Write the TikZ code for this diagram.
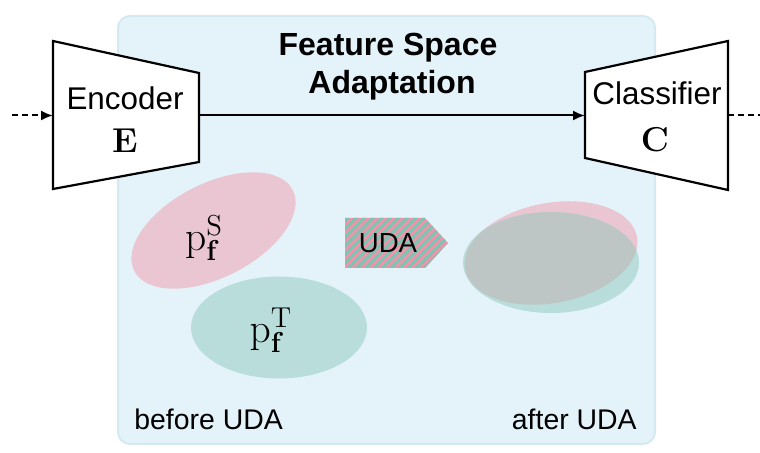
\documentclass[tikz,border=0pt]{standalone}
\usepackage[no-math]{fontspec}
\setmainfont{Liberation Sans}
\usetikzlibrary{arrows.meta}

\definecolor{panelfill}{HTML}{E4F3F9}
\definecolor{panelline}{HTML}{D4E9F2}
\definecolor{srcpink}{HTML}{EAC6D2}
\definecolor{tgtteal}{HTML}{B9DDDA}
\definecolor{mixgray}{HTML}{BEC6C5}
\definecolor{stripepink}{HTML}{EE95AA}
\definecolor{stripeteal}{HTML}{7FC3B2}

\tikzset{
  block/.style={draw=black, line width=1.1pt, fill=white, line join=miter},
  flow/.style={line width=1pt, -{Latex[length=6pt,width=5pt]}},
  dashflow/.style={flow, dash pattern=on 3pt off 2pt},
  dashtail/.style={line width=1pt, dash pattern=on 3pt off 2pt},
  label/.style={font=\fontsize{15.7pt}{18pt}\selectfont, inner sep=0pt},
  caption/.style={font=\fontsize{14.2pt}{17pt}\selectfont, inner sep=0pt},
  title/.style={font=\fontsize{16pt}{19pt}\selectfont\bfseries, inner sep=0pt},
  sym/.style={font=\fontsize{17.5pt}{20pt}\selectfont, inner sep=0pt},
  dist/.style={font=\fontsize{22pt}{25pt}\selectfont, inner sep=0pt},
  udatext/.style={font=\fontsize{13.8pt}{16pt}\selectfont, inner sep=0pt},
}

\begin{document}
\begin{tikzpicture}[x=0.5pt,y=-0.5pt]
\useasboundingbox (0,0) rectangle (760,453);

% adaptation panel
\draw[panelline, fill=panelfill, line width=1pt, rounded corners=6pt]
  (118,16) rectangle (655,444);

% title
\node[title, anchor=base] (title1) at (388,56) {Feature Space};
\node[title, anchor=base] (title2) at (392,94) {Adaptation};

% encoder and classifier blocks
\draw[block] (53,41) -- (199,73) -- (199,162) -- (53,189) -- cycle;
\draw[block] (585,72) -- (728,41) -- (728,190) -- (585,158) -- cycle;
\coordinate (encin)  at (53,115.5);
\coordinate (encout) at (199,115.5);
\coordinate (clsin)  at (585,115.5);
\coordinate (clsout) at (728,115.5);
\coordinate (src)    at (12,115.5);
\coordinate (sink)   at (760,115.5);

\node[label, anchor=base] (enc) at (125,110) {Encoder};
\node[sym, anchor=base] (encsym) at (125,153) {$\mathbf{E}$};
\node[label, anchor=base] (cls) at (657,105) {Classifier};
\node[sym, anchor=base] (clssym) at (655,152) {$\mathbf{C}$};

% connectors
\draw[dashflow] (src) -- (encin);
\draw[flow] (encout) -- (clsin);
\draw[dashtail] (clsout) -- (sink);

% feature distributions before adaptation
\fill[srcpink, rotate around={27:(213.5,230.5)}]
  (213.5,230.5) ellipse [x radius=89, y radius=47];
\fill[tgtteal] (279,327.5) ellipse [x radius=88, y radius=51];
\node[dist] (ps) at (204,238) {$\mathrm{p}_{\mathbf{f}}^{\mathrm{S}}$};
\node[dist] (pt) at (271,330) {$\mathrm{p}_{\mathbf{f}}^{\mathrm{T}}$};

% striped UDA arrow
\begin{scope}
  \clip (345,218) -- (425,218) -- (448,243) -- (425,268) -- (345,268) -- cycle;
  \fill[stripepink] (340,210) rectangle (455,275);
  \foreach \i in {-60,-51.5,...,120}
    \draw[stripeteal, line width=1.5pt] (345+\i,272) -- ++(60,-60);
\end{scope}
\node[udatext, anchor=base] (uda) at (388,253) {UDA};

% feature distributions after adaptation
\fill[srcpink, rotate around={10.7:(551,253)}]
  (551,253) ellipse [x radius=87.5, y radius=50];
\fill[tgtteal] (551,262.5) ellipse [x radius=88, y radius=50.5];
\begin{scope}
  \clip (551,262.5) ellipse [x radius=88, y radius=50.5];
  \fill[mixgray, rotate around={10.7:(551,253)}]
    (551,253) ellipse [x radius=87.5, y radius=50];
\end{scope}

% captions
\node[caption, anchor=base west] (before) at (134,430) {before UDA};
\node[caption, anchor=base east] (after) at (637,430) {after UDA};
\end{tikzpicture}
\end{document}
